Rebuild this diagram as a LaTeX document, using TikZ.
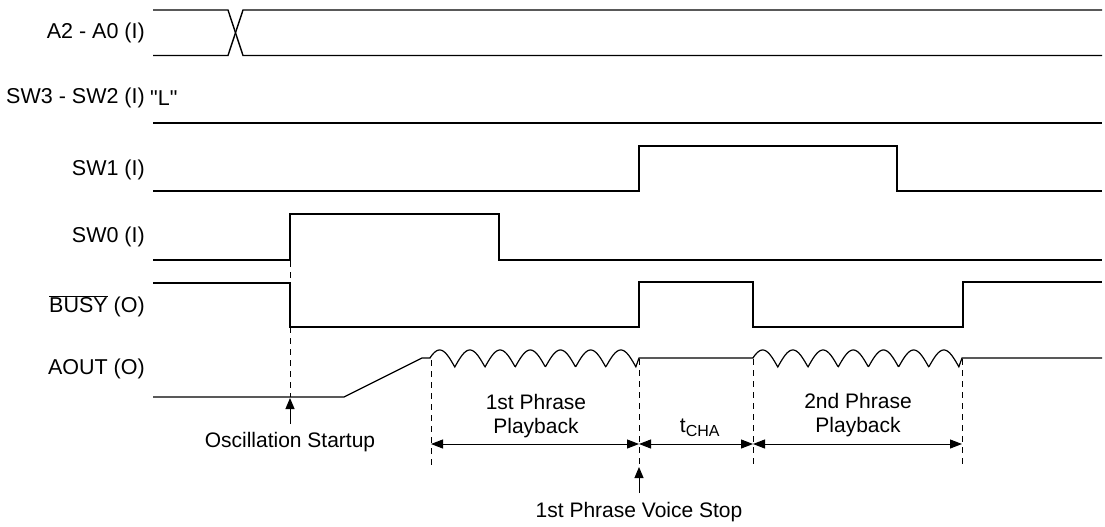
\documentclass[tikz,border=0pt]{standalone}
\usepackage{fontspec}
\setmainfont{Liberation Sans}[Ligatures=TeXOff]
\usetikzlibrary{arrows.meta}
\begin{document}
\begin{tikzpicture}[x=1pt,y=-1pt,
  sig/.style={line width=1.4pt,line join=miter},
  guide/.style={line width=1pt,dash pattern=on 6pt off 5pt},
  dim/.style={line width=1pt,{Triangle[length=12pt,width=9pt]}-{Triangle[length=12pt,width=9pt]}},
  pointer/.style={line width=1pt,-{Triangle[length=11pt,width=9pt]}},
  lbl/.style={font=\fontsize{21.5}{25}\selectfont,inner sep=0pt},
  note/.style={font=\fontsize{21}{23.5}\selectfont,inner sep=0pt,align=center}]
\useasboundingbox (0,0) rectangle (1105,527);
% signal labels
\node[lbl,anchor=east] (lA) at (145,33) {A2 - A0 (I)};
\node[lbl,anchor=east] (lSW3) at (145,98) {SW3 - SW2 (I)};
\node[lbl,anchor=west] (lL) at ([xshift=5pt]lSW3.east) {"L"};
\node[lbl,anchor=east] (lSW1) at (145,170) {SW1 (I)};
\node[lbl,anchor=east] (lSW0) at (145,237) {SW0 (I)};
\node[lbl,anchor=east] (lBUSY) at (145,306) {$\overline{\hbox{BUSY}}$ (O)};
\node[lbl,anchor=east] (lAOUT) at (145,369) {AOUT (O)};
% A2-A0
\draw[sig] (153,10) -- (228,10) -- (243,55.5) -- (1102,55.5);
\draw[sig] (153,55.5) -- (228,55.5) -- (243,10) -- (1102,10);
% SW3-SW2
\draw[sig] (153,123) -- (1102,123);
% SW1
\draw[sig] (153,191) -- (639,191) -- (639,146) -- (897,146) -- (897,191) -- (1102,191);
% SW0
\draw[sig] (153,260) -- (290,260) -- (290,214) -- (499,214) -- (499,260) -- (1102,260);
% BUSY
\draw[sig] (153,283) -- (290,283) -- (290,327) -- (639,327) -- (639,282) -- (753,282) -- (753,327) -- (963,327) -- (963,282) -- (1102,282);
% AOUT
\draw[sig,line width=1.2pt] (153,397) -- (344,397) -- (422,358) -- (430,358)
  -- plot[domain=0.18:7,samples=300] ({430+(\x-0.18)*30.2},{367-17*abs(sin(\x*180))})
  -- (639,358) -- (753,358)
  -- plot[domain=0.18:7,samples=300] ({753+(\x-0.18)*30.2},{367-17*abs(sin(\x*180))})
  -- (962,358) -- (1102,358);
% event coordinates
\coordinate (g1t) at (290,261);  \coordinate (g1b) at (290,397);
\coordinate (g2t) at (431,360);  \coordinate (g2b) at (431,468);
\coordinate (g3t) at (639,359);  \coordinate (g3b) at (639,466);
\coordinate (g4t) at (753,359);  \coordinate (g4b) at (753,466);
\coordinate (g5t) at (962,359);  \coordinate (g5b) at (962,468);
\draw[guide] (g1t) -- (g1b);
\draw[guide] (g2t) -- (g2b);
\draw[guide] (g3t) -- (g3b);
\draw[guide] (g4t) -- (g4b);
\draw[guide] (g5t) -- (g5b);
% dimension arrows
\coordinate (d1) at (431,444); \coordinate (d2) at (639,444);
\coordinate (d3) at (753,444); \coordinate (d4) at (962,444);
\draw[dim] (d1) -- (d2);
\draw[dim] (d2) -- (d3);
\draw[dim] (d3) -- (d4);
\node[note] (tp1) at (536,416) {1st Phrase\\Playback};
\node[note] (tcha) at (700,428) {t\textsubscript{\fontsize{16}{16}\selectfont CHA}};
\node[note] (tp2) at (858,415) {2nd Phrase\\Playback};
% pointers
\coordinate (p1a) at (290,424); \coordinate (p1b) at (290,398);
\draw[pointer] (p1a) -- (p1b);
\node[note] (osc) at (290,442) {Oscillation Startup};
\coordinate (p2a) at (639,493); \coordinate (p2b) at (639,467);
\draw[pointer] (p2a) -- (p2b);
\node[note] (stop) at (639,512) {1st Phrase Voice Stop};
\end{tikzpicture}
\end{document}
